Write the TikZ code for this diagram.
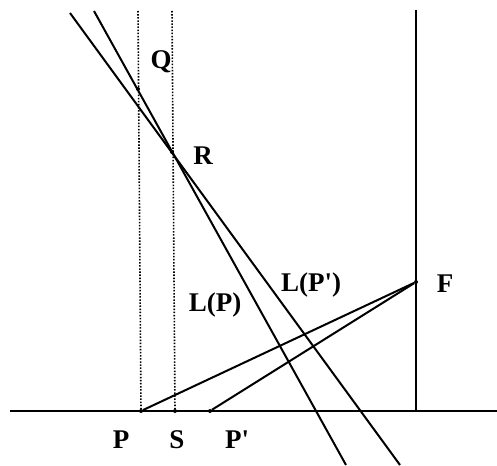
\documentclass[tikz,border=0pt]{standalone}
\usepackage{fontspec}
\setmainfont{Liberation Serif}
\begin{document}
\begin{tikzpicture}[x=1pt,y=-1pt,
  ln/.style={line width=2pt, black},
  dl/.style={line width=1.6pt, black, dash pattern=on 1.5pt off 1.6pt},
  lbl/.style={font=\fontsize{27}{27}\selectfont\bfseries, inner sep=0pt},
  pt/.style={circle, fill=black, inner sep=0pt, minimum size=4pt}]
\useasboundingbox (0,0) rectangle (497,465);
% points
\coordinate (bl) at (10,411);
\coordinate (br) at (497,411);
\coordinate (vt) at (416,10);
\coordinate (Fb) at (416,411);
\node[pt] (F) at (416,282) {};
\node[pt] (P) at (141,411) {};
\node[pt] (S) at (175,411) {};
\node[pt] (Pp) at (210,411) {};
\node[pt] (Q) at (138,89) {};
\node[pt] (R) at (172,152) {};
\coordinate (d1t) at (138,11);
\coordinate (d2t) at (172,11);
\coordinate (LPt) at (94,11);
\coordinate (LPb) at (346,465);
\coordinate (LPpt) at (70,13);
\coordinate (LPpb) at (400,465);
% lines
\draw[ln] (bl) -- (br);
\draw[ln] (vt) -- (Fb);
\draw[dl] (d1t) -- (P);
\draw[dl] (d2t) -- (S);
\draw[ln] (LPt) -- (LPb);
\draw[ln] (LPpt) -- (LPpb);
\draw[ln] (F) -- (P);
\draw[ln] (F) -- (Pp);
% labels
\node[lbl] (lQ) at (161,62) {Q};
\node[lbl] (lR) at (203,156) {R};
\node[lbl] (lP) at (121,440) {P};
\node[lbl] (lS) at (177,440) {S};
\node[lbl] (lPp) at (237,440) {P\textquotesingle};
\node[lbl] (lF) at (445,284) {F};
\node[lbl] (lLP) at (215,305) {L(P)};
\node[lbl] (lLPp) at (311,285) {L(P\textquotesingle)};
\end{tikzpicture}
\end{document}
